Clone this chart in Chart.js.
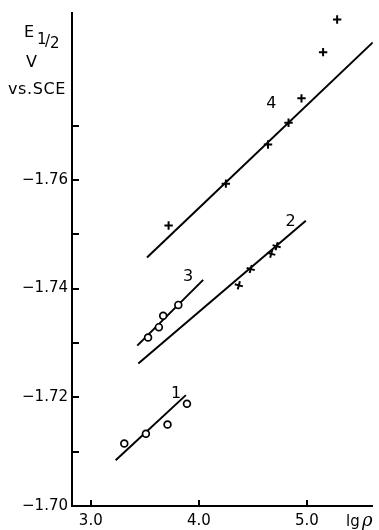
<!DOCTYPE html>
<html>
<head>
<meta charset="utf-8">
<script src="https://cdn.jsdelivr.net/npm/chart.js@4/dist/chart.umd.min.js"></script>
<style>
  html, body { margin: 0; padding: 0; background: #fff; }
  #wrap { width: 379px; height: 530px; }
</style>
</head>
<body>
<div id="wrap"><canvas id="c" width="379" height="530"></canvas></div>
<script>
// Half-wave potentials E1/2 (V vs. SCE) against lg ρ for four series
const s1X = [3.31, 3.51, 3.71, 3.89];
const s1Y = [-1.7115, -1.7133, -1.7150, -1.7188];
const s2X = [4.37, 4.48, 4.67, 4.72];
const s2Y = [-1.7406, -1.7436, -1.7464, -1.7478];
const s3X = [3.53, 3.63, 3.67, 3.81];
const s3Y = [-1.7310, -1.7329, -1.7350, -1.7370];
const s4X = [3.72, 4.25, 4.64, 4.83, 4.95, 5.15, 5.28];
const s4Y = [-1.7516, -1.7593, -1.7665, -1.7705, -1.7750, -1.7835, -1.7895];

// Straight-line fits (end points)
const fit1X = [3.23, 3.88];  const fit1Y = [-1.7084, -1.7204];
const fit2X = [3.44, 4.99];  const fit2Y = [-1.7262, -1.7525];
const fit3X = [3.43, 4.04];  const fit3Y = [-1.7295, -1.7416];
const fit4X = [3.52, 5.61];  const fit4Y = [-1.7457, -1.7853];

// Curve numbers and where they sit (data units)
const curveNames = ['1', '2', '3', '4'];
const curveNameX = [3.79, 4.85, 3.90, 4.67];
const curveNameY = [-1.7207, -1.7522, -1.7421, -1.7740];

// Axis ticks
const xTicks = [3.0, 4.0, 5.0];
const xTickLabels = ['3.0', '4.0', '5.0'];
const yTicks = [-1.70, -1.71, -1.72, -1.73, -1.74, -1.75, -1.76, -1.77];
const yTickLabels = ['\u22121.70', '', '\u22121.72', '', '\u22121.74', '', '\u22121.76', ''];

const pts = (xs, ys) => xs.map((x, i) => ({ x: x, y: ys[i] }));
const FONT = 'DejaVu Sans';

const circleSet = (xs, ys) => ({
  data: pts(xs, ys), showLine: false, order: 0,
  pointStyle: 'circle', pointRadius: 3.4, pointBorderWidth: 1.7,
  pointBackgroundColor: '#fff', pointBorderColor: '#000'
});
const crossSet = (xs, ys, rot) => ({
  data: pts(xs, ys), showLine: false, order: 0,
  pointStyle: 'cross', pointRadius: 4.2, pointBorderWidth: 2,
  pointRotation: rot, pointBorderColor: '#000'
});
const fitSet = (xs, ys) => ({
  data: pts(xs, ys), showLine: true, order: 1,
  borderColor: '#000', borderWidth: 2, pointRadius: 0, fill: false
});

const decor = {
  id: 'decor',
  afterDraw(chart) {
    const { ctx, chartArea: a, scales: { x, y } } = chart;
    ctx.save();
    ctx.strokeStyle = '#000';
    ctx.fillStyle = '#000';
    ctx.lineWidth = 2;
    // inward tick marks
    yTicks.forEach(v => {
      const py = Math.round(y.getPixelForValue(v));
      ctx.beginPath(); ctx.moveTo(a.left, py); ctx.lineTo(a.left + 7, py); ctx.stroke();
    });
    xTicks.forEach(v => {
      const px = Math.round(x.getPixelForValue(v));
      ctx.beginPath(); ctx.moveTo(px, a.bottom); ctx.lineTo(px, a.bottom - 6); ctx.stroke();
    });
    // curve numbers
    ctx.font = '16px "' + FONT + '"';
    ctx.textAlign = 'center';
    ctx.textBaseline = 'middle';
    curveNames.forEach((t, i) => {
      ctx.fillText(t, x.getPixelForValue(curveNameX[i]), y.getPixelForValue(curveNameY[i]));
    });
    // y axis title
    ctx.textAlign = 'left';
    ctx.textBaseline = 'alphabetic';
    ctx.font = '16px "' + FONT + '"';
    ctx.fillText('E', 24, 37);
    ctx.font = '15px "' + FONT + '"';
    ctx.fillText('1', 37, 44);
    ctx.fillText('/', 45, 46);
    ctx.fillText('2', 50, 48);
    ctx.font = '16px "' + FONT + '"';
    ctx.fillText('V', 26, 67);
    if ('letterSpacing' in ctx) ctx.letterSpacing = '0.6px';
    ctx.fillText('vs.SCE', 8, 94);
    if ('letterSpacing' in ctx) ctx.letterSpacing = '0px';
    // x axis title
    ctx.font = '15px "' + FONT + '"';
    ctx.fillText('lg', 346, 526);
    ctx.font = 'italic 18px "DejaVu Serif"';
    ctx.fillText('\u03c1', 362, 526);
    ctx.restore();
  }
};

new Chart(document.getElementById('c'), {
  type: 'scatter',
  data: {
    datasets: [
      circleSet(s1X, s1Y),
      crossSet(s2X, s2Y, 15),
      circleSet(s3X, s3Y),
      crossSet(s4X, s4Y, 0),
      fitSet(fit1X, fit1Y),
      fitSet(fit2X, fit2Y),
      fitSet(fit3X, fit3Y),
      fitSet(fit4X, fit4Y)
    ]
  },
  options: {
    responsive: false,
    devicePixelRatio: 1,
    animation: false,
    layout: { padding: { top: 12, right: 2, left: 0, bottom: 0 } },
    plugins: { legend: { display: false }, tooltip: { enabled: false } },
    scales: {
      x: {
        type: 'linear', min: 2.826, max: 5.61,
        grid: { display: false, drawTicks: false },
        border: { display: true, color: '#000', width: 2 },
        afterBuildTicks: s => { s.ticks = xTicks.map(v => ({ value: v })); },
        afterFit: s => { s.height = 24; },
        ticks: {
          color: '#000', padding: 6, maxRotation: 0, autoSkip: false,
          font: { family: FONT, size: 15 },
          callback: (v) => { const i = xTicks.indexOf(v); return i >= 0 ? xTickLabels[i] : ''; }
        }
      },
      y: {
        type: 'linear', reverse: true, min: -1.7907, max: -1.70,
        grid: { display: false, drawTicks: false },
        border: { display: true, color: '#000', width: 2 },
        afterBuildTicks: s => { s.ticks = yTicks.map(v => ({ value: v })); },
        afterFit: s => { s.width = 72; },
        ticks: {
          color: '#000', padding: 4, autoSkip: false,
          font: { family: FONT, size: 15 },
          callback: (v) => {
            const i = yTicks.findIndex(t => Math.abs(t - v) < 1e-6);
            return i >= 0 ? yTickLabels[i] : '';
          }
        }
      }
    }
  },
  plugins: [decor]
});
</script>
</body>
</html>
